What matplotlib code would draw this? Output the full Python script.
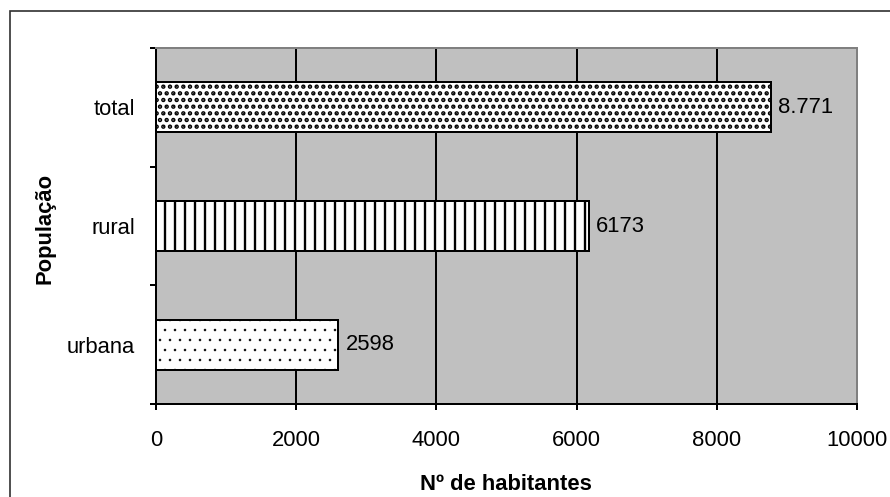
import matplotlib
matplotlib.use("Agg")
import matplotlib.pyplot as plt
from matplotlib.patches import Rectangle

plt.rcParams['font.family'] = ['Liberation Sans', 'DejaVu Sans']

# dados da população
categorias = ['urbana', 'rural', 'total']
habitantes = [2598, 6173, 8771]
rotulos = ['2598', '6173', '8.771']
padroes = ['..', '||', '...']
espessura_padrao = [0.3, 1.4, 1.8]

DPI = 120
W, H = 890, 497
FS = 13.2

fig = plt.figure(figsize=(W / DPI, H / DPI), dpi=DPI, facecolor='white')
ax = fig.add_axes([156 / W, 1 - 404 / H, (857 - 156) / W, (404 - 48) / H])
ax.set_facecolor('#c0c0c0')

# moldura externa do gráfico
fig.add_artist(Rectangle((10 / W, -0.2), 1.5, 1.2 - 11 / H, transform=fig.transFigure,
                         fill=False, edgecolor='#303030', linewidth=1.0))

for i in range(len(categorias)):
    with plt.rc_context({'hatch.linewidth': espessura_padrao[i]}):
        ax.barh(i, habitantes[i], height=0.42, color='white', edgecolor='black',
                hatch=padroes[i], linewidth=1.2, zorder=3)
    ax.annotate(rotulos[i], (habitantes[i], i), xytext=(4.5, 0), textcoords='offset points',
                ha='left', va='center', fontsize=FS, color='black')

ax.set_xlim(0, 10000)
ax.set_ylim(-0.5, 2.5)
ax.set_xticks(range(0, 10001, 2000))
ax.set_yticks(range(len(categorias)))
ax.set_yticklabels(categorias)
ax.set_yticks([-0.5, 0.5, 1.5, 2.5], minor=True)

ax.tick_params(axis='x', direction='out', length=3.6, width=1.2, pad=12, labelsize=FS, colors='black')
ax.tick_params(axis='y', which='major', length=0, pad=12.6, labelsize=FS)
ax.tick_params(axis='y', which='minor', direction='out', length=3.6, width=1.2)

ax.set_axisbelow(True)
ax.grid(axis='x', color='black', linewidth=1.2)

for lado in ['left', 'bottom']:
    ax.spines[lado].set_color('black')
    ax.spines[lado].set_linewidth(1.2)
for lado in ['top', 'right']:
    ax.spines[lado].set_color('#808080')
    ax.spines[lado].set_linewidth(1.2)

fig.text(506 / W, 1 - 485 / H, 'Nº de habitantes', ha='center', va='center',
         fontsize=FS, fontweight='bold')
fig.text(45 / W, 1 - 228 / H, 'População', ha='center', va='center', rotation=90,
         fontsize=FS, fontweight='bold')

fig.savefig('out.png', dpi=DPI)
